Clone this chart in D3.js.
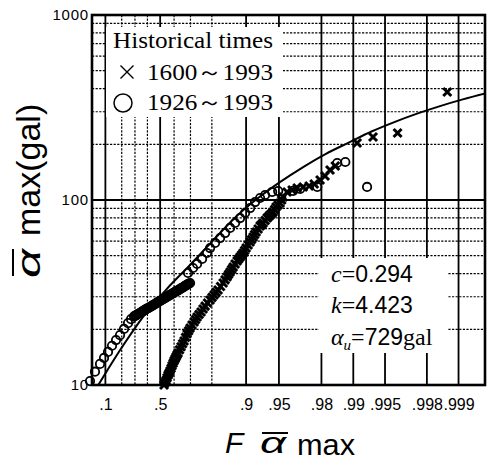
<!DOCTYPE html>
<html><head><meta charset="utf-8">
<script src="https://cdn.jsdelivr.net/npm/d3@7"></script>
<style>body{margin:0;background:#fff}svg{display:block}</style>
</head><body>
<svg id="c" width="487" height="464"></svg>
<script>
// ---------- data ----------
const tickF = [0.1, 0.5, 0.9, 0.95, 0.98, 0.99, 0.995, 0.998, 0.999];
const tickLabels = [".1", ".5", ".9", ".95", ".98", ".99", ".995", ".998", ".999"];
const minorF = [0.2, 0.3, 0.4, 0.6, 0.7, 0.8];
const yTicks = [10, 100, 1000];
const yMinor = [20, 30, 40, 50, 60, 70, 80, 90, 200, 300, 400, 500, 600, 700, 800, 900];

// 1926~1993 (circles)
const circleF = [0.0397, 0.0555, 0.0750, 0.0932, 0.1137, 0.1365, 0.1614, 0.1881, 0.2164, 0.2461, 0.2691,
  0.2926, 0.3006, 0.3085, 0.3165, 0.3244, 0.3325, 0.3405, 0.3486, 0.3566, 0.3647, 0.3727, 0.3808, 0.3888,
  0.3969, 0.4049, 0.4130, 0.4210, 0.4290, 0.4369, 0.4448, 0.4527, 0.4606, 0.4684, 0.4761, 0.4838, 0.4915,
  0.4992, 0.5068, 0.5143, 0.5218, 0.5292, 0.5366, 0.5439, 0.5511, 0.5582, 0.5653, 0.5724, 0.5793, 0.5862,
  0.5930, 0.5998, 0.6065, 0.6131, 0.6196, 0.6261, 0.6325, 0.6388, 0.6451, 0.6513, 0.6574, 0.6634, 0.6693,
  0.6751, 0.6809, 0.6866, 0.6922, 0.6978,
  0.6866, 0.7140, 0.7345, 0.7584, 0.7805, 0.7929, 0.8123, 0.8300, 0.8462, 0.8611, 0.8745, 0.8868, 0.8979,
  0.9080, 0.9171, 0.9254, 0.9329, 0.9422, 0.9492, 0.9631, 0.9683, 0.9781, 0.9858, 0.9881, 0.9926];
const circleGal = [10.5, 11.8, 13.0, 14.0, 15.1, 16.3, 17.5, 18.6, 20.1, 21.6, 22.7,
  23.5, 23.65, 23.8, 24.0, 24.2, 24.35, 24.5, 24.7, 24.9, 25.1, 25.3, 25.5, 25.7,
  25.85, 26.0, 26.2, 26.4, 26.6, 26.8, 27.0, 27.2, 27.4, 27.6, 27.85, 28.1, 28.3,
  28.5, 28.7, 28.9, 29.1, 29.3, 29.55, 29.8, 30.0, 30.2, 30.45, 30.7, 30.9, 31.1,
  31.35, 31.6, 31.85, 32.1, 32.3, 32.5, 32.75, 33.0, 33.25, 33.5, 33.75, 34.0, 34.3,
  34.6, 34.85, 35.1, 35.35, 35.6,
  40.3, 42.9, 45.1, 48.0, 51.7, 55.0, 58.6, 62.3, 66.3, 70.6, 75.1, 79.9, 85.1,
  90.5, 97.5, 102.5, 106.4, 110.5, 111.8, 112.0, 114.7, 117.6, 158.5, 160.5, 117.6];

// 1600~1993 (crosses)
const crossF = [0.5292, 0.5366, 0.5439, 0.5511, 0.5582, 0.5653, 0.5724, 0.5793, 0.5862, 0.5930,
  0.5998, 0.6065, 0.6131, 0.6196, 0.6261, 0.6356, 0.6451, 0.6543, 0.6634, 0.6722,
  0.6810, 0.6894, 0.6978, 0.7085, 0.7192, 0.7269, 0.7345, 0.7441, 0.7537, 0.7628,
  0.7719, 0.7824, 0.7929, 0.8007, 0.8085, 0.8158, 0.8231, 0.8316, 0.8400, 0.8462,
  0.8523, 0.8567, 0.8611, 0.8652, 0.8693, 0.8745, 0.8796, 0.8832, 0.8868, 0.8902,
  0.8936, 0.8969, 0.9001, 0.9041, 0.9080, 0.9108, 0.9136, 0.9163, 0.9189, 0.9222,
  0.9254, 0.9277, 0.9300, 0.9329, 0.9357, 0.9377, 0.9397, 0.9416, 0.9434, 0.9452,
  0.9469, 0.9491, 0.9512, 0.9528, 0.9543,
  0.9580, 0.9623, 0.9662, 0.9703, 0.9739, 0.9766, 0.9794, 0.9815, 0.9834, 0.9852,
  0.9908, 0.9935, 0.9962, 0.99872];
const crossGal = [10.0, 10.3, 10.6, 10.95, 11.3, 11.6, 11.9, 12.3, 12.7, 13.1,
  13.5, 13.85, 14.2, 14.55, 14.9, 15.5, 16.1, 16.7, 17.3, 18.1,
  18.9, 19.6, 20.3, 21.1, 21.9, 22.6, 23.3, 24.05, 24.8, 25.75,
  26.7, 27.75, 28.8, 29.75, 30.7, 31.65, 32.6, 34.1, 35.6, 37.0,
  38.4, 39.6, 40.8, 42.1, 43.4, 45.1, 46.8, 48.0, 49.2, 50.45,
  51.7, 53.35, 55.0, 57.15, 59.3, 61.2, 63.1, 65.1, 67.1, 69.7,
  72.4, 73.75, 75.1, 77.5, 79.9, 81.45, 83.0, 84.55, 86.1, 88.9,
  91.7, 94.0, 96.3, 100.0, 103.8,
  110.5, 113.3, 116.1, 117.6, 119.1, 122.1, 128.3, 134.9, 145.3, 152.7,
  203.3, 219.0, 230.2, 383.6];

// fitted curve (c=0.294, k=4.423, αu=729gal)
const curveF = [0.0680, 0.1923, 0.3679, 0.5452, 0.6922, 0.8000, 0.8734, 0.9212, 0.9514, 0.9703,
  0.98185, 0.98895, 0.99328, 0.99592, 0.99752, 0.99850, 0.999088, 0.999447];
const curveGal = [10.0, 15.6, 23.5, 32.8, 44.0, 59.5, 80.0, 101.8, 125.2, 150.6,
  177.6, 204.3, 234.6, 263.8, 293.0, 321.8, 349.8, 377.0];

// ---------- layout ----------
const P = {l: 92, r: 485, t: 15, b: 385};
const gumbel = F => -Math.log(-Math.log(F));
const xs = d3.scaleLinear().domain([gumbel(0.0456), gumbel(0.99944)]).range([P.l, P.r]);
const X = F => xs(gumbel(F));
const Y = d3.scaleLog().domain([10, 1000]).range([P.b, P.t]);

const svg = d3.select("#c");
svg.append("rect").attr("width", 487).attr("height", 464).attr("fill", "#fff");
svg.append("defs").append("clipPath").attr("id", "clip")
  .append("rect").attr("x", P.l).attr("y", P.t).attr("width", P.r - P.l).attr("height", P.b - P.t);

const grid = svg.append("g");
const dot = "2.2,1.4";
grid.selectAll(".hm").data(yMinor).join("line")
  .attr("x1", P.l).attr("x2", P.r).attr("y1", d => Y(d)).attr("y2", d => Y(d))
  .attr("stroke", "#000").attr("stroke-width", 1.2).attr("stroke-dasharray", dot);
grid.selectAll(".vm").data(minorF).join("line")
  .attr("x1", d => X(d)).attr("x2", d => X(d)).attr("y1", P.t).attr("y2", P.b)
  .attr("stroke", "#000").attr("stroke-width", 1.2).attr("stroke-dasharray", dot);
grid.append("line").attr("x1", P.l).attr("x2", P.r).attr("y1", Y(100)).attr("y2", Y(100))
  .attr("stroke", "#000").attr("stroke-width", 1.8);
grid.selectAll(".vM").data(tickF).join("line")
  .attr("x1", d => X(d)).attr("x2", d => X(d)).attr("y1", P.t).attr("y2", P.b)
  .attr("stroke", "#000").attr("stroke-width", 1.8);

// white boxes (legend and parameters)
svg.append("rect").attr("x", 106).attr("y", 27).attr("width", 177).attr("height", 90).attr("fill", "#fff");
svg.append("rect").attr("x", 319).attr("y", 258).attr("width", 129).attr("height", 95).attr("fill", "#fff");

// fitted curve
const curveData = curveF.map((f, i) => [f, curveGal[i]]);
svg.append("path").datum(curveData).attr("clip-path", "url(#clip)")
  .attr("d", d3.line().x(d => X(d[0])).y(d => Y(d[1])).curve(d3.curveMonotoneX))
  .attr("fill", "none").attr("stroke", "#000").attr("stroke-width", 2);

// crosses
const crossData = crossF.map((f, i) => [f, crossGal[i]]);
const h = 4;
svg.append("g").selectAll("path").data(crossData).join("path")
  .attr("transform", d => `translate(${X(d[0])},${Y(d[1])})`)
  .attr("d", `M${-h},${-h}L${h},${h}M${-h},${h}L${h},${-h}`)
  .attr("stroke", "#000").attr("stroke-width", 3).attr("fill", "none");

// circles
const circleData = circleF.map((f, i) => [f, circleGal[i]]);
svg.append("g").selectAll("circle").data(circleData).join("circle")
  .attr("cx", d => X(d[0])).attr("cy", d => Y(d[1])).attr("r", 4.2)
  .attr("fill", "none").attr("stroke", "#000").attr("stroke-width", 1.8);

// frame
svg.append("rect").attr("x", P.l).attr("y", P.t).attr("width", P.r - P.l).attr("height", P.b - P.t)
  .attr("fill", "none").attr("stroke", "#000").attr("stroke-width", 2.6);

// axes labels
const xAxis = d3.axisBottom(xs).tickValues(tickF.map(gumbel))
  .tickFormat((d, i) => tickLabels[i]).tickSize(0).tickPadding(14);
const gx = svg.append("g").attr("transform", `translate(0,${P.b})`).call(xAxis);
gx.select(".domain").remove();
gx.selectAll("text").attr("font-family", "Liberation Sans, Arial, sans-serif").attr("font-size", 16).attr("fill", "#000");

const yAxis = d3.axisLeft(Y).tickValues(yTicks).tickFormat(d3.format("d")).tickSize(0).tickPadding(3);
const gy = svg.append("g").attr("transform", `translate(${P.l},0)`).call(yAxis);
gy.select(".domain").remove();
gy.selectAll("text").attr("font-family", "Liberation Sans, Arial, sans-serif").attr("font-size", 15)
  .attr("letter-spacing", 0.8).attr("fill", "#000");

// legend
const serif = "Liberation Serif, Times New Roman, serif";
const leg = svg.append("g").attr("font-family", serif).attr("font-size", 24).attr("fill", "#000");
leg.append("text").attr("x", 113).attr("y", 48).attr("textLength", 160).attr("lengthAdjust", "spacingAndGlyphs").text("Historical times");
leg.append("path").attr("transform", "translate(127,72)").attr("d", "M-6.5,-6.5L6.5,6.5M-6.5,6.5L6.5,-6.5")
  .attr("stroke", "#000").attr("stroke-width", 1.4);
leg.append("text").attr("x", 147).attr("y", 80).attr("textLength", 126).attr("lengthAdjust", "spacingAndGlyphs").text("1600～1993");
leg.append("circle").attr("cx", 123).attr("cy", 103).attr("r", 9).attr("fill", "none").attr("stroke", "#000").attr("stroke-width", 1.5);
leg.append("text").attr("x", 147).attr("y", 110).attr("textLength", 126).attr("lengthAdjust", "spacingAndGlyphs").text("1926～1993");

// parameters
const sans = "Liberation Sans, Arial, sans-serif";
const ann = svg.append("g").attr("font-size", 24).attr("fill", "#000").attr("font-family", serif);
const t1 = ann.append("text").attr("x", 331).attr("y", 282);
t1.append("tspan").attr("font-style", "italic").text("c");
t1.append("tspan").text("=");
t1.append("tspan").attr("font-family", sans).attr("font-size", 23).text("0.294");
const t2 = ann.append("text").attr("x", 331).attr("y", 313);
t2.append("tspan").attr("font-style", "italic").text("k");
t2.append("tspan").text("=");
t2.append("tspan").attr("font-family", sans).attr("font-size", 23).text("4.423");
const t3 = ann.append("text").attr("x", 331).attr("y", 345);
t3.append("tspan").attr("font-style", "italic").text("α");
t3.append("tspan").attr("font-style", "italic").attr("font-size", 15).attr("dy", 5).text("u");
t3.append("tspan").attr("dy", -5).text("=");
t3.append("tspan").attr("font-family", sans).attr("font-size", 23).text("729");
t3.append("tspan").text("gal");

// x title
const xt = svg.append("g").attr("font-family", sans).attr("fill", "#000");
xt.append("text").attr("x", 225).attr("y", 453).attr("font-size", 30).attr("font-style", "italic").text("F");
xt.append("text").attr("x", 260).attr("y", 453).attr("font-size", 30).attr("font-style", "italic")
  .attr("textLength", 26).attr("lengthAdjust", "spacingAndGlyphs").text("α");
xt.append("line").attr("x1", 262).attr("x2", 288).attr("y1", 433).attr("y2", 433).attr("stroke", "#000").attr("stroke-width", 2);
xt.append("text").attr("x", 297).attr("y", 455).attr("font-size", 30).attr("textLength", 58).attr("lengthAdjust", "spacingAndGlyphs").text("max");

// y title
const yt = svg.append("g").attr("transform", "translate(40,189) rotate(-90)").attr("font-family", sans).attr("fill", "#000");
yt.append("text").attr("x", -89).attr("y", 0).attr("font-size", 34).attr("font-style", "italic")
  .attr("textLength", 29).attr("lengthAdjust", "spacingAndGlyphs").text("α");
yt.append("line").attr("x1", -87).attr("x2", -60).attr("y1", -27).attr("y2", -27).attr("stroke", "#000").attr("stroke-width", 2);
yt.append("text").attr("x", -47).attr("y", 0).attr("font-size", 34).text("max(gal)");
</script>
</body></html>
